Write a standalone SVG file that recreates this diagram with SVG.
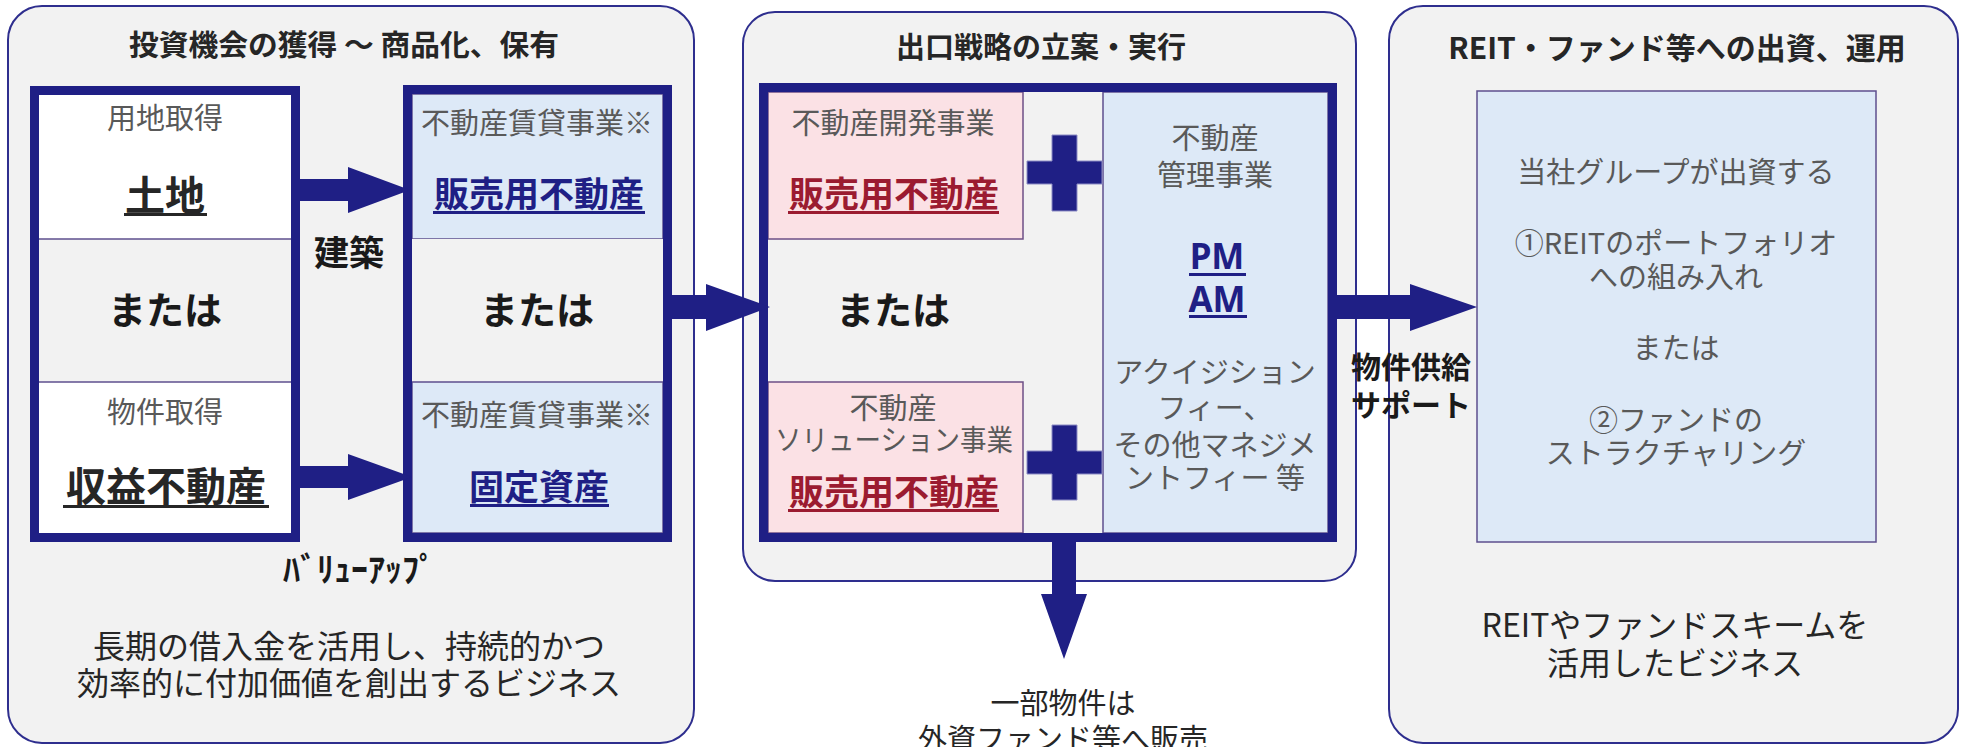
<svg xmlns="http://www.w3.org/2000/svg" width="1961" height="747" viewBox="0 0 1961 747">
<style>
text{font-family:"Noto Sans CJK JP","Noto Sans",sans-serif;text-anchor:middle}
.panel{fill:#f2f2f2;stroke:#2e2e8e;stroke-width:2}
.frame{fill:none;stroke:#1f1f85;stroke-width:9}
.cellw{fill:#ffffff}
.cellg{fill:#f2f2f2}
.cellb{fill:#dde9f7;stroke:#5e4f8e;stroke-width:1.5}
.cellp{fill:#fbe1e5;stroke:#6e4f86;stroke-width:1.5}
.div{stroke:#5e4f8e;stroke-width:1.5}
.title{font-size:29px;font-weight:700;fill:#262626}
.g{font-size:29px;fill:#595959}
.big{font-size:40px;font-weight:700;fill:#262626}
.ora{font-size:38px;font-weight:700;fill:#1a1a1a}
.nv{font-size:35px;font-weight:700;fill:#1f1f85}
.rd{font-size:35px;font-weight:700;fill:#9b1b30}
.desc{font-size:32px;fill:#262626}
.lbl{font-size:30px;font-weight:700;fill:#1a1a1a}
.arrow{fill:#1f1f85}
.plus{fill:#1f1f85;stroke:#8c8cc4;stroke-width:1}
</style>

<g id="panel-left">
<rect class="panel" x="8" y="6" width="686" height="737" rx="34"/>
<text class="title" x="344" y="56" textLength="430" lengthAdjust="spacingAndGlyphs">投資機会の獲得 ～ 商品化、保有</text>
<text class="desc" x="349" y="658">長期の借入金を活用し、持続的かつ</text>
<text class="desc" x="349" y="695">効率的に付加価値を創出するビジネス</text>
</g>

<g id="panel-middle">
<rect class="panel" x="743" y="12" width="613" height="569" rx="32"/>
<text class="title" x="1041" y="58">出口戦略の立案・実行</text>
</g>

<g id="panel-right">
<rect class="panel" x="1389" y="6" width="569" height="737" rx="34"/>
<text class="title" x="1677" y="59" style="font-size:30px">REIT・ファンド等への出資、運用</text>
<text class="desc" x="1675" y="637">REITやファンドスキームを</text>
<text class="desc" x="1675" y="675">活用したビジネス</text>
</g>

<g id="box-acquire">
<rect class="cellw" x="39" y="95" width="252" height="144"/>
<rect class="cellg" x="39" y="239" width="252" height="143"/>
<rect class="cellw" x="39" y="382" width="252" height="151"/>
<line class="div" x1="39" y1="239" x2="291" y2="239"/>
<line class="div" x1="39" y1="382" x2="291" y2="382"/>
<rect class="frame" x="34.5" y="90.5" width="261" height="447"/>
<text class="g" x="165" y="129">用地取得</text>
<text class="big" x="165" y="210">土地</text>
<rect x="124" y="213" width="83" height="3" fill="#262626"/>
<text class="ora" x="165" y="324">または</text>
<text class="g" x="165" y="423">物件取得</text>
<text class="big" x="166" y="501">収益不動産</text>
<rect x="63" y="505" width="206" height="3" fill="#262626"/>
</g>

<g id="box-hold">
<rect class="cellb" x="412" y="94" width="251" height="145"/>
<rect class="cellg" x="412" y="239" width="251" height="143"/>
<rect class="cellb" x="412" y="382" width="251" height="151"/>
<rect class="frame" x="407.5" y="89.5" width="260" height="448"/>
<text class="g" x="537" y="134">不動産賃貸事業※</text>
<text class="nv" x="539" y="207">販売用不動産</text>
<rect x="433" y="211" width="212" height="3" fill="#1f1f85"/>
<text class="ora" x="537" y="324">または</text>
<text class="g" x="537" y="426">不動産賃貸事業※</text>
<text class="nv" x="539" y="500">固定資産</text>
<rect x="470" y="504" width="139" height="3" fill="#1f1f85"/>
</g>

<g id="box-exit">
<rect class="cellg" x="768" y="92" width="560" height="441"/>
<rect class="cellp" x="768" y="92" width="255" height="147"/>
<rect class="cellp" x="768" y="382" width="255" height="151"/>
<rect class="cellb" x="1103" y="92" width="225" height="441"/>
<rect class="frame" x="763.5" y="87.5" width="569" height="450"/>
<text class="g" x="893" y="134">不動産開発事業</text>
<text class="rd" x="894" y="207">販売用不動産</text>
<rect x="788" y="211" width="211" height="3" fill="#9b1b30"/>
<text class="ora" x="893" y="324">または</text>
<text class="g" x="893" y="419">不動産</text>
<text class="g" x="894" y="451" textLength="238" lengthAdjust="spacingAndGlyphs">ソリューション事業</text>
<text class="rd" x="894" y="505">販売用不動産</text>
<rect x="788" y="509" width="211" height="3" fill="#9b1b30"/>
<text class="g" x="1215" y="149">不動産</text>
<text class="g" x="1215" y="186">管理事業</text>
<text class="nv" x="1217" y="269" style="font-family:'Noto Sans',sans-serif">PM</text>
<rect x="1189" y="273" width="57" height="3" fill="#1f1f85"/>
<text class="nv" x="1217" y="312" style="font-family:'Noto Sans',sans-serif">AM</text>
<rect x="1189" y="315" width="58" height="3" fill="#1f1f85"/>
<text class="g" x="1215" y="383">アクイジション</text>
<text class="g" x="1215" y="419">フィー、</text>
<text class="g" x="1215" y="456">その他マネジメ</text>
<text class="g" x="1215" y="489">ントフィー 等</text>
</g>

<g id="plus-signs">
<path class="plus" d="M1052 135H1077V161H1102V184H1077V211H1052V184H1027V161H1052Z"/>
<path class="plus" d="M1052 425H1077V451H1102V474H1077V500H1052V474H1027V451H1052Z"/>
</g>

<g id="box-fund">
<rect class="cellb" x="1477" y="91" width="399" height="451"/>
<text class="g" x="1676" y="183">当社グループが出資する</text>
<text class="g" x="1676" y="254">①REITのポートフォリオ</text>
<text class="g" x="1676" y="288">への組み入れ</text>
<text class="g" x="1676" y="359">または</text>
<text class="g" x="1676" y="431">②ファンドの</text>
<text class="g" x="1676" y="464">ストラクチャリング</text>
</g>

<g id="connectors">
<path class="arrow" d="M300 179H348V167L410 190L348 213V201H300Z"/>
<path class="arrow" d="M300 466H348V454L412 477L348 500V488H300Z"/>
<path class="arrow" d="M672 295H706V284L770 307L706 331V319H672Z"/>
<path class="arrow" d="M1337 295H1410V284L1477 307L1410 331V319H1337Z"/>
<path class="arrow" d="M1052 542H1076V594H1087L1064 659L1041 594H1052Z"/>
</g>

<g id="labels">
<text class="lbl" x="349" y="266" style="font-size:35px">建築</text>
<text class="lbl" x="359.5" y="582" style="font-size:34px" textLength="153" lengthAdjust="spacingAndGlyphs">ﾊﾞﾘｭｰｱｯﾌﾟ</text>
<text class="lbl" x="1411" y="378">物件供給</text>
<text class="lbl" x="1411" y="416">サポート</text>
<text class="g" x="1063" y="714" style="fill:#262626">一部物件は</text>
<text class="g" x="1063" y="750" style="fill:#262626">外資ファンド等へ販売</text>
</g>
</svg>
